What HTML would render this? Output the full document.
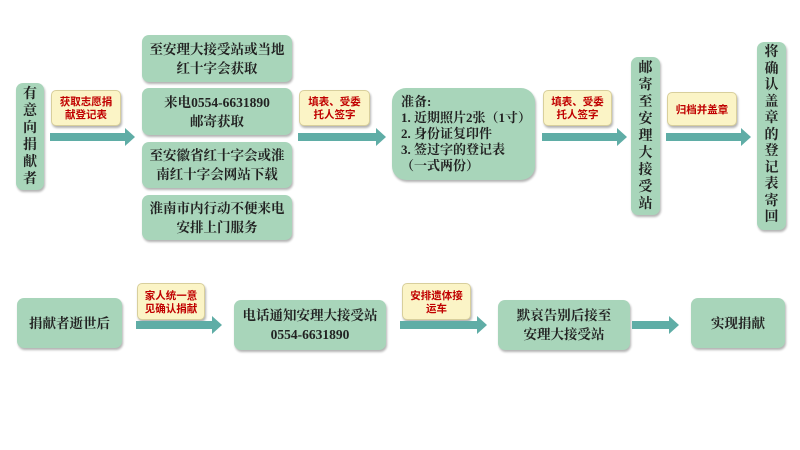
<!DOCTYPE html>
<html><head><meta charset="utf-8"><style>
*{margin:0;padding:0;box-sizing:border-box}
body{width:800px;height:450px;background:#fff;position:relative;overflow:hidden;font-family:"Liberation Serif","Noto Serif CJK SC",serif;color:#222}
.b{position:absolute;background:#a8d5ba;border-radius:7px;box-shadow:1px 2px 2px rgba(0,0,0,.3);display:flex;align-items:center;justify-content:center;text-align:center;font-size:13.5px;line-height:19px;font-weight:bold;white-space:nowrap}
.v{font-size:14px;line-height:17px}
.l{position:absolute;background:#fbf4c6;border:1px solid #d8cf9c;border-radius:5px;box-shadow:1px 2px 2px rgba(0,0,0,.3);display:flex;align-items:center;justify-content:center;text-align:center;font-family:"Noto Sans CJK SC",sans-serif;font-size:10.5px;line-height:13px;color:#c00000;font-weight:bold}
.a{position:absolute;height:8px;background:#5fada6}
.a::after{content:"";position:absolute;right:-10px;top:-5px;border-left:10px solid #5fada6;border-top:9px solid transparent;border-bottom:9px solid transparent}
</style></head><body>
<div class="b v" style="left:16px;top:83px;width:28px;height:107px">有<br>意<br>向<br>捐<br>献<br>者</div>
<div class="l" style="left:51px;top:90px;width:70px;height:36px">获取志愿捐<br>献登记表</div>
<div class="a" style="left:50px;top:133px;width:75px"></div>
<div class="b" style="left:142px;top:35px;width:150px;height:47px">至安理大接受站或当地<br>红十字会获取</div>
<div class="b" style="left:142px;top:88px;width:150px;height:47px">来电0554-6631890<br>邮寄获取</div>
<div class="b" style="left:142px;top:142px;width:150px;height:46px">至安徽省红十字会或淮<br>南红十字会网站下载</div>
<div class="b" style="left:142px;top:195px;width:150px;height:45px">淮南市内行动不便来电<br>安排上门服务</div>
<div class="l" style="left:299px;top:90px;width:71px;height:36px">填表、受委<br>托人签字</div>
<div class="a" style="left:298px;top:133px;width:78px"></div>
<div class="b" style="left:392px;top:88px;width:143px;height:92px;border-radius:14px;justify-content:flex-start;text-align:left;padding-left:9px;font-size:13px;line-height:16px">准备:<br>1. 近期照片2张（1寸）<br>2. 身份证复印件<br>3. 签过字的登记表<br>（一式两份）</div>
<div class="l" style="left:543px;top:90px;width:69px;height:36px">填表、受委<br>托人签字</div>
<div class="a" style="left:542px;top:133px;width:75px"></div>
<div class="b v" style="left:631px;top:57px;width:29px;height:158px">邮<br>寄<br>至<br>安<br>理<br>大<br>接<br>受<br>站</div>
<div class="l" style="left:667px;top:92px;width:70px;height:34px">归档并盖章</div>
<div class="a" style="left:666px;top:133px;width:75px"></div>
<div class="b v" style="left:757px;top:42px;width:29px;height:188px;line-height:16.5px">将<br>确<br>认<br>盖<br>章<br>的<br>登<br>记<br>表<br>寄<br>回</div>

<div class="b" style="left:17px;top:298px;width:105px;height:50px">捐献者逝世后</div>
<div class="l" style="left:137px;top:283px;width:68px;height:37px">家人统一意<br>见确认捐献</div>
<div class="a" style="left:136px;top:321px;width:76px"></div>
<div class="b" style="left:234px;top:300px;width:152px;height:50px">电话通知安理大接受站<br>0554-6631890</div>
<div class="l" style="left:402px;top:283px;width:69px;height:37px">安排遗体接<br>运车</div>
<div class="a" style="left:400px;top:321px;width:77px"></div>
<div class="b" style="left:498px;top:300px;width:132px;height:50px">默哀告别后接至<br>安理大接受站</div>
<div class="a" style="left:632px;top:321px;width:37px"></div>
<div class="b" style="left:691px;top:298px;width:94px;height:50px">实现捐献</div>
</body></html>
